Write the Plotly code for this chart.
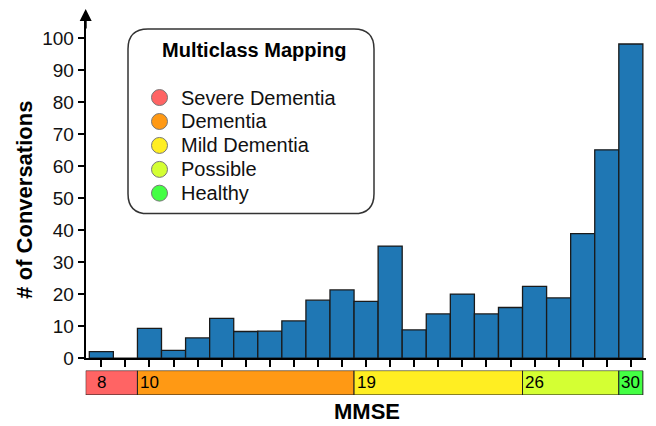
import plotly.graph_objects as go

# ---- data ----
mmse_scores = list(range(8, 31))
conversation_counts = [2.0, 0, 9.3, 2.4, 6.3, 12.4, 8.3, 8.4, 11.6, 18.1, 21.3,
                       17.7, 35.0, 8.8, 13.8, 20.0, 13.8, 15.8, 22.4, 18.8, 38.9,
                       65.1, 98.2]
class_names = ["Severe Dementia", "Dementia", "Mild Dementia", "Possible", "Healthy"]
class_start = [8, 10, 19, 26, 30]
class_end = [9, 18, 25, 29, 30]
class_colors = ["#ff6464", "#ff9914", "#ffee22", "#d4ff33", "#44ff44"]
y_ticks = list(range(0, 101, 10))

# layout helpers: convert target screen pixels into paper fractions
OFFX, OFFY, SY = 8, 8, 0.976
W, H = 640, 426
def px(x):
    return (x - OFFX) / W
def py(y):
    return 1 - ((y - OFFY) / SY) / H

X_MIN, X_MAX = 7.35, 30.63
fig = go.Figure()

fig.add_trace(go.Bar(
    x=mmse_scores, y=conversation_counts, width=1,
    marker=dict(color="#1f77b4", line=dict(color="#1a1a1a", width=1.3)),
    xaxis="x", yaxis="y", hoverinfo="skip", showlegend=False))

# class colour strip under the axis
for i, (s, e, c) in enumerate(zip(class_start, class_end, class_colors)):
    left = X_MIN if i == 0 else s - 0.5
    right = e + 0.5
    fig.add_trace(go.Bar(
        x=[right - left], base=[left], y=[0], orientation="h", width=1,
        marker=dict(color=c, line=dict(color="#222", width=1)),
        xaxis="x", yaxis="y2", hoverinfo="skip", showlegend=False))
    fig.add_annotation(x=s, y=0, xref="x", yref="y2", text=str(s), showarrow=False,
                       font=dict(size=17, color="black"), xanchor="center", yanchor="middle")

fig.update_layout(
    width=W, height=H, margin=dict(l=0, r=0, t=0, b=0),
    plot_bgcolor="white", paper_bgcolor="white", barmode="overlay",
    font=dict(family="Liberation Sans, Arial, sans-serif", color="#111"),
    xaxis=dict(domain=[px(85.7), px(646)], range=[X_MIN, X_MAX], anchor="y",
               showline=True, linecolor="black", linewidth=2,
               ticks="outside", ticklen=7, tickwidth=2, tickcolor="black",
               tickvals=mmse_scores, showticklabels=False, showgrid=False, zeroline=False),
    yaxis=dict(domain=[py(358.7), py(12)], range=[0, (358.7 - 12) / 3.204], anchor="x",
               showline=True, linecolor="black", linewidth=2,
               ticks="outside", ticklen=6, tickwidth=2, tickcolor="black",
               tickvals=y_ticks, tickfont=dict(size=19, color="#111"),
               showgrid=False, zeroline=False),
    yaxis2=dict(domain=[py(395.7), py(371.3)], range=[-0.5, 0.5], anchor="x",
                showline=False, showticklabels=False, ticks="", showgrid=False, zeroline=False),
)

# arrow head on y axis
fig.add_annotation(x=px(85.7), y=py(8), xref="paper", yref="paper",
                   ax=0, ay=22, axref="pixel", ayref="pixel",
                   text="", showarrow=True, arrowhead=2, arrowsize=1.2, arrowwidth=2,
                   arrowcolor="black")

# axis titles
fig.add_annotation(x=px(367), y=py(412), xref="paper", yref="paper", text="<b>MMSE</b>",
                   showarrow=False, font=dict(size=22, color="black"),
                   xanchor="center", yanchor="middle")
fig.add_annotation(x=px(25), y=py(200), xref="paper", yref="paper",
                   text="<b># of Conversations</b>", textangle=-90,
                   showarrow=False, font=dict(size=22, color="black"),
                   xanchor="center", yanchor="middle")

# legend box
x0, x1, y0, y1, r = 128, 374, 29, 214, 20
path = (f"M {px(x0 + r)},{py(y0)} L {px(x1 - r)},{py(y0)} "
        f"Q {px(x1)},{py(y0)} {px(x1)},{py(y0 + r)} L {px(x1)},{py(y1 - r)} "
        f"Q {px(x1)},{py(y1)} {px(x1 - r)},{py(y1)} L {px(x0 + r)},{py(y1)} "
        f"Q {px(x0)},{py(y1)} {px(x0)},{py(y1 - r)} L {px(x0)},{py(y0 + r)} "
        f"Q {px(x0)},{py(y0)} {px(x0 + r)},{py(y0)} Z")
fig.add_shape(type="path", path=path, xref="paper", yref="paper",
              line=dict(color="#333", width=1.5), fillcolor="white", layer="above")
fig.add_annotation(x=px(254), y=py(50), xref="paper", yref="paper",
                   text="<b>Multiclass Mapping</b>", showarrow=False,
                   font=dict(size=20, color="black"), xanchor="center", yanchor="middle")
item_y = [97.7, 121.7, 145.7, 169.7, 193.5]
for name, c, yy in zip(class_names, class_colors, item_y):
    cx, rr = 159.5, 8
    fig.add_shape(type="circle", xref="paper", yref="paper",
                  x0=px(cx - rr), x1=px(cx + rr), y0=py(yy + rr), y1=py(yy - rr),
                  fillcolor=c, line=dict(color="#777", width=1), layer="above")
    fig.add_annotation(x=px(179), y=py(yy), xref="paper", yref="paper", text=name,
                       showarrow=False, font=dict(size=20, color="#111"),
                       xanchor="left", yanchor="middle")

fig.write_html("out.html")
